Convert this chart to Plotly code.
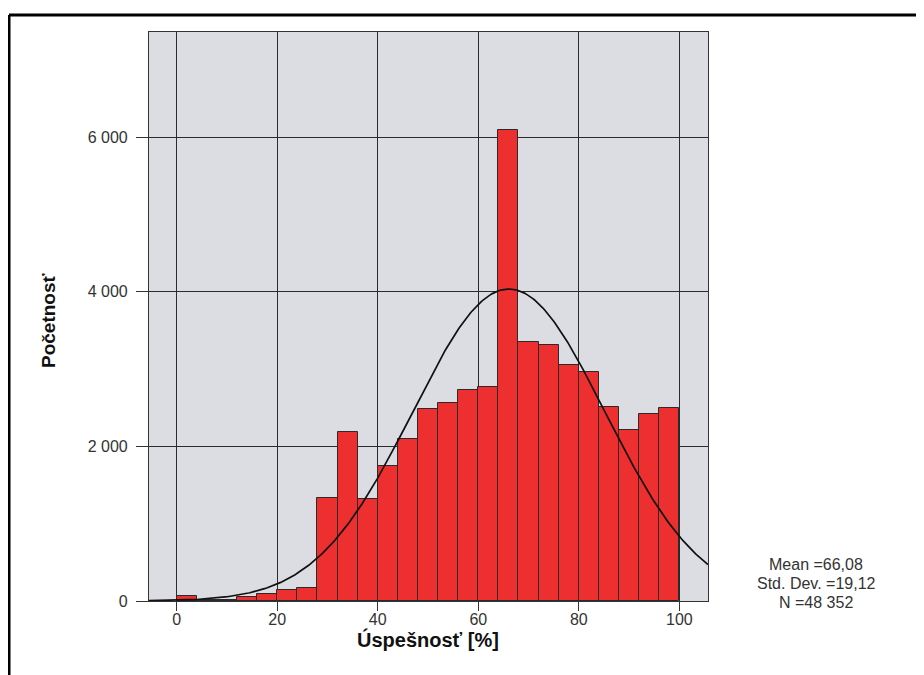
import numpy as np
import plotly.graph_objects as go

# ---- data ----
bin_edges = [0, 4, 8, 12, 16, 20, 24, 28, 32, 36, 40, 44, 48, 52, 56, 60, 64, 68, 72, 76, 80, 84, 88, 92, 96, 100]
counts = [60, 10, 15, 50, 90, 142, 172, 1336, 2182, 1315, 1750, 2096, 2480, 2566, 2730,
          2772, 6090, 3355, 3312, 3053, 2959, 2506, 2212, 2419, 2501]
mean_val = 66.08
sd_val = 19.12
n_val = 48352

x_tickvals = [0, 20, 40, 60, 80, 100]
x_ticktext = ["0", "20", "40", "60", "80", "100"]
y_tickvals = [0, 2000, 4000, 6000]
y_ticktext = ["0", "2 000", "4 000", "6 000"]

x_range = [-5.5, 105.7]
y_range = [0, 7360]

# ---- derived ----
centers = [(a + b) / 2 for a, b in zip(bin_edges[:-1], bin_edges[1:])]
widths = [b - a for a, b in zip(bin_edges[:-1], bin_edges[1:])]
bw = widths[0]
xs = np.linspace(x_range[0], x_range[1], 400)
ys = n_val * bw / (sd_val * np.sqrt(2 * np.pi)) * np.exp(-0.5 * ((xs - mean_val) / sd_val) ** 2)

# figure geometry (page has an 8px body margin)
OFF = 8
W, H = 924 - OFF, 675 - OFF
L, R, T, B = 149 - OFF, 708 - OFF, 32 - OFF, 601 - OFF
PW, PH = R - L, B - T


def px(xp):
    return ((xp - OFF) - L) / PW


def py(yp):
    return (B - (yp - OFF)) / PH


def fmt_dec(v):
    return f"{v:.2f}".replace(".", ",")


font_main = "Liberation Sans, Arial, sans-serif"
txt_col = "#333333"

fig = go.Figure()
fig.add_trace(go.Bar(
    x=centers, y=counts, width=widths,
    marker=dict(color="#EE2F2F", line=dict(color="#2a2a2a", width=1)),
    hoverinfo="x+y", showlegend=False,
))
fig.add_trace(go.Scatter(
    x=xs, y=ys, mode="lines", line=dict(color="#111111", width=1.7),
    showlegend=False, hoverinfo="skip",
))

fig.update_layout(
    width=W, height=H,
    margin=dict(l=L, r=W - R, t=T, b=H - B, pad=0),
    paper_bgcolor="white",
    plot_bgcolor="#DCDCE3",
    bargap=0,
    font=dict(family=font_main, size=16, color=txt_col),
)
fig.update_xaxes(
    range=x_range, tickvals=x_tickvals, ticktext=x_ticktext,
    showgrid=True, gridcolor="#2b2b2b", gridwidth=1.2,
    ticks="outside", ticklen=9, tickcolor="#333333", tickwidth=1.2,
    showline=True, linecolor="#333333", linewidth=1.2, mirror=True,
    zeroline=False, tickfont=dict(size=16, color=txt_col),
    ticklabelstandoff=-5,
)
fig.update_yaxes(
    range=y_range, tickvals=y_tickvals, ticktext=y_ticktext,
    showgrid=True, gridcolor="#2b2b2b", gridwidth=1.2,
    ticks="outside", ticklen=12, tickcolor="#333333", tickwidth=1.2,
    showline=True, linecolor="#333333", linewidth=1.2, mirror=True,
    zeroline=False, tickfont=dict(size=16, color=txt_col),
    ticklabelstandoff=5,
)

# outer frame (top and left)
fx = (1 - L) / PW
fy = (B - 7) / PH
fig.add_shape(type="line", xref="paper", yref="paper",
              x0=fx, x1=(W + 5 - L) / PW, y0=fy, y1=fy,
              line=dict(color="black", width=3))
fig.add_shape(type="line", xref="paper", yref="paper",
              x0=fx, x1=fx, y0=fy, y1=(B - H - 5) / PH,
              line=dict(color="black", width=3))

# axis titles
fig.add_annotation(text="<b>Úspešnosť [%]</b>", xref="paper", yref="paper",
                   x=px(428), y=py(639), showarrow=False,
                   font=dict(size=20, color="#111111", family=font_main),
                   xanchor="center", yanchor="middle")
fig.add_annotation(text="<b>Početnosť</b>", xref="paper", yref="paper",
                   x=px(48), y=py(320), showarrow=False,
                   textangle=-90,
                   font=dict(size=19, color="#111111", family=font_main),
                   xanchor="center", yanchor="middle")

# stats box (three tightly spaced lines)
stat_lines = [
    "Mean =" + fmt_dec(mean_val),
    "Std. Dev. =" + fmt_dec(sd_val),
    "N =" + f"{n_val:,}".replace(",", " "),
]
for line, yy in zip(stat_lines, [564, 583, 602]):
    fig.add_annotation(text=line, xref="paper", yref="paper", x=px(816), y=py(yy),
                       showarrow=False, xanchor="center", yanchor="middle",
                       borderpad=0,
                       font=dict(size=16, color=txt_col, family=font_main))

fig.write_html("out.html")
